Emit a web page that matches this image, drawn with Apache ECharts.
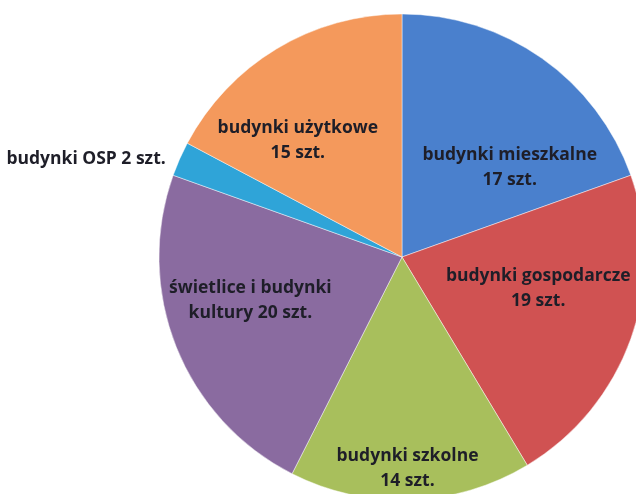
<!DOCTYPE html>
<html>
<head>
<meta charset="utf-8">
<script src="https://cdn.jsdelivr.net/npm/echarts@6/dist/echarts.min.js"></script>
<style>
  html, body { margin: 0; padding: 0; background: #fff; }
  #chart { width: 636px; height: 494px; }
</style>
</head>
<body>
<div id="chart"></div>
<script>
// data (clockwise from 12 o'clock)
var categories = ['budynki mieszkalne', 'budynki gospodarcze', 'budynki szkolne',
  'świetlice i budynki kultury', 'budynki OSP', 'budynki użytkowe'];
var counts = [17, 19, 14, 20, 2, 15];
var labelTexts = [
  'budynki mieszkalne\n17 szt.',
  'budynki gospodarcze\n19 szt.',
  'budynki szkolne\n14 szt.',
  'świetlice i budynki\nkultury 20 szt.',
  'budynki OSP 2 szt.',
  'budynki użytkowe\n15 szt.'
];
var colors = ['#4a80cd', '#d05252', '#a8bf5c', '#8a6ba0', '#2fa4d8', '#f4995c'];

// nudges from the default "inside" label spot
var labelNudge = [[36, 12], [19, -10], [1, 87], [-36, -3], [-202, -48], [-40, -10]];

var chart = echarts.init(document.getElementById('chart'));

var option = {
  animation: false,
  series: [
    {
      type: 'pie',
      center: [402, 257],
      radius: [0, 243],
      startAngle: 90,
      clockwise: true,
      avoidLabelOverlap: false,
      itemStyle: {
        borderColor: 'rgba(255,255,255,0.45)',
        borderWidth: 1
      },
      label: {
        show: true,
        position: 'inside',
        formatter: function (p) { return labelTexts[p.dataIndex]; },
        color: '#1e1e28',
        fontFamily: 'Open Sans',
        fontWeight: 'bold',
        fontSize: 17.5,
        lineHeight: 25,
        align: 'center'
      },
      labelLine: { show: false },
      labelLayout: function (params) {
        var n = labelNudge[params.dataIndex];
        return { dx: n[0], dy: n[1] };
      },
      emphasis: { disabled: true },
      data: categories.map(function (c, i) {
        return { name: c, value: counts[i], itemStyle: { color: colors[i] } };
      })
    }
  ]
};

chart.setOption(option);
</script>
</body>
</html>
